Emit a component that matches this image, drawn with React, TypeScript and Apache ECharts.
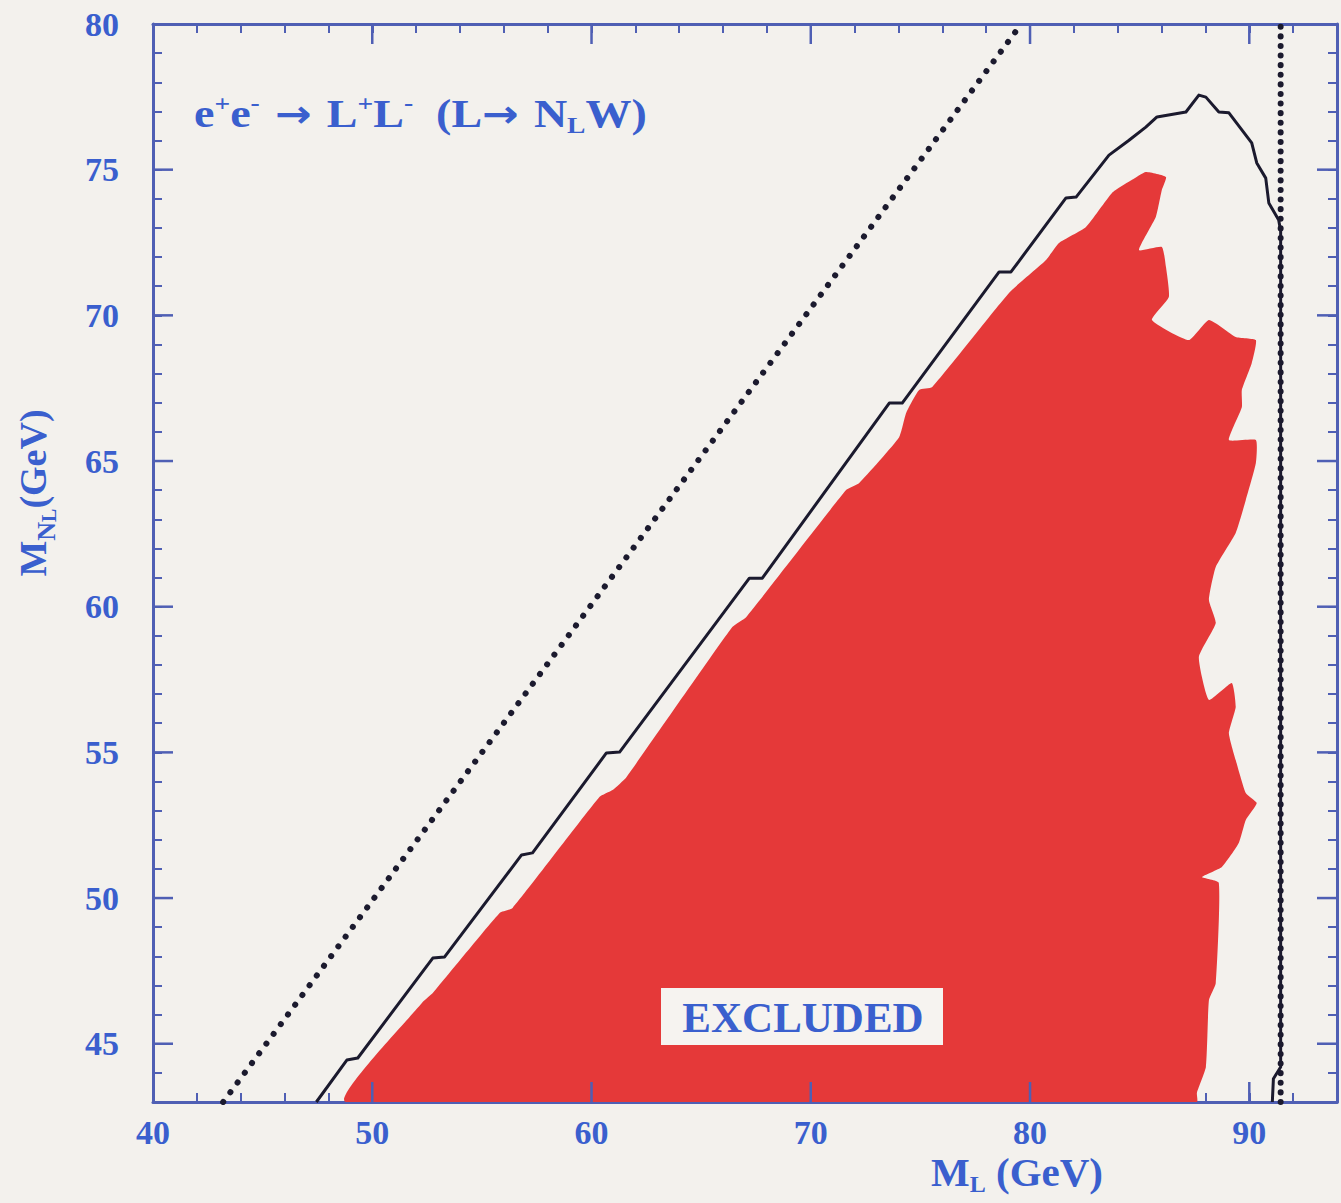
import React, { useEffect, useRef } from "react";
import * as echarts from "echarts";

// ---- data ----
const xRange = [40, 94];
const yRange = [43, 80];
const xLabelValues = [40, 50, 60, 70, 80, 90];
const yLabelValues = [45, 50, 55, 60, 65, 70, 75, 80];
const majorXTicks = [50, 60, 70, 80, 90];
const majorYTicks = [45, 50, 55, 60, 65, 70, 75];

// dotted kinematic limit M_N = M_L
const kinematicLimit: number[][] = [
  [43.2, 43],
  [79.6, 80],
];
// dotted vertical line
const zMassLimit: number[][] = [
  [91.43, 43],
  [91.43, 80],
];
// solid contour
const expectedLimit: number[][] = [
  [47.45, 43], [48.84, 44.44], [49.34, 44.51], [52.76, 47.94], [53.3, 47.98],
  [56.81, 51.48], [57.31, 51.55], [60.68, 54.98], [61.28, 55.01], [67.2, 60.98],
  [67.79, 60.98], [73.58, 66.99], [74.17, 66.99], [78.59, 71.49], [79.13, 71.49],
  [81.64, 74.03], [82.1, 74.06], [83.6, 75.5], [84.5, 76.0], [85.28, 76.46],
  [85.79, 76.81], [87.11, 76.98], [87.7, 77.56], [88.02, 77.49], [88.61, 76.98],
  [89.07, 76.95], [90.11, 75.92], [90.34, 75.23], [90.75, 74.71], [90.89, 73.86],
  [91.34, 73.27], [91.43, 72.9], [91.43, 44.2], [91.1, 43.8], [91.05, 43],
];
// red excluded region outline
const excludedRegion: number[][] = [
  [48.8, 43], [52.3, 46.43], [52.76, 46.74], [55.81, 49.49], [56.4, 49.66],
  [60.36, 53.47], [60.96, 53.71], [61.59, 54.15], [66.42, 59.3], [67.06, 59.65],
  [71.62, 64.01], [72.21, 64.25], [74.03, 65.82], [74.35, 66.65], [74.94, 67.44],
  [75.54, 67.54], [79.04, 70.77], [80.73, 71.9], [81.32, 72.48], [82.55, 73.03],
  [83.74, 74.2], [84.65, 74.65], [85.28, 74.92], [86.2, 74.75], [86.01, 74.3],
  [85.74, 73.38], [84.97, 72.24], [86.01, 72.35], [86.2, 71.66], [86.33, 70.63],
  [85.56, 69.84], [87.24, 69.15], [88.16, 69.84], [89.38, 69.26], [90.3, 69.15],
  [90.11, 68.36], [89.66, 67.44], [89.66, 66.85], [89.07, 65.72], [90.3, 65.72],
  [90.3, 64.93], [89.84, 63.66], [89.38, 62.53], [88.47, 61.36], [88.16, 60.23],
  [88.47, 59.44], [87.7, 58.27], [88.16, 56.8], [89.2, 57.38], [89.38, 56.56],
  [89.07, 55.66], [89.38, 54.74], [89.84, 53.61], [90.34, 53.26], [89.84, 52.68],
  [89.52, 51.89], [88.75, 51.07], [87.84, 50.72], [88.61, 50.52], [88.47, 47.08],
  [88.16, 46.5], [88.02, 44.2], [87.61, 43.31], [87.61, 43],
];

// ---- styles ----
const FONT = "'Liberation Serif', 'Times New Roman', serif";
const ARROW_FONT = "'DejaVu Sans', sans-serif";
const TEXT = "#3a5fce";
const FRAME = "#4f5fb4";
const RED = "#e53939";
const INK = "#1b1a2e";
const BG = "#f3f1ed";

export default function App() {
  const ref = useRef<HTMLDivElement>(null);

  useEffect(() => {
    document.body.style.margin = "0";
    document.body.style.overflow = "hidden";
    const chart = echarts.init(ref.current!, undefined, { renderer: "svg" });

    const axisLabelBase = {
      fontFamily: FONT,
      fontWeight: "bold" as const,
      fontSize: 34,
      color: TEXT,
    };
    const axisLineStyle = { lineStyle: { color: FRAME, width: 3 } };
    const tickStyle = { inside: true, length: 9, lineStyle: { color: FRAME, width: 2 } };
    const isLabel = (list: number[]) => (v: number) =>
      list.includes(Math.round(v)) && Math.abs(v - Math.round(v)) < 1e-6 ? String(Math.round(v)) : "";

    const tok = (size: number, lh: number, va: string, fam = FONT) => ({
      fontSize: size, fontWeight: "bold", fontFamily: fam, fill: TEXT, lineHeight: lh, verticalAlign: va,
    });

    const option: any = {
      animation: false,
      backgroundColor: BG,
      grid: { left: 153, top: 24, right: 4, bottom: 101, containLabel: false },
      xAxis: [
        {
          type: "value", position: "bottom", min: xRange[0], max: xRange[1], interval: 2,
          axisLine: axisLineStyle, axisTick: tickStyle, splitLine: { show: false },
          axisLabel: { ...axisLabelBase, margin: 13, formatter: isLabel(xLabelValues) },
        },
        {
          type: "value", position: "top", min: xRange[0], max: xRange[1], interval: 2,
          axisLine: axisLineStyle, axisTick: tickStyle, splitLine: { show: false },
          axisLabel: { show: false },
        },
      ],
      yAxis: [
        {
          type: "value", position: "left", min: yRange[0], max: yRange[1], interval: 1,
          axisLine: axisLineStyle, axisTick: tickStyle, splitLine: { show: false },
          axisLabel: { ...axisLabelBase, margin: 34, formatter: isLabel(yLabelValues) },
        },
        {
          type: "value", position: "right", min: yRange[0], max: yRange[1], interval: 1,
          axisLine: axisLineStyle, axisTick: tickStyle, splitLine: { show: false },
          axisLabel: { show: false },
        },
      ],
      series: [
        {
          type: "custom",
          name: "excluded",
          data: excludedRegion,
          z: 1,
          clip: true,
          silent: true,
          renderItem: (params: any, api: any) => {
            if (params.dataIndex !== 0) return null;
            const pts = excludedRegion.map((p) => api.coord(p));
            return { type: "polygon", shape: { points: pts, smooth: 0.15 }, style: { fill: RED } };
          },
        },
        {
          type: "line",
          name: "kinematic",
          data: kinematicLimit,
          showSymbol: false,
          silent: true,
          z: 3,
          lineStyle: { color: INK, width: 6, type: [0.1, 12], cap: "round" },
        },
        {
          type: "line",
          name: "zmass",
          data: zMassLimit,
          showSymbol: false,
          silent: true,
          z: 3,
          lineStyle: { color: INK, width: 6, type: [0.1, 9.5], cap: "round" },
        },
        {
          type: "line",
          name: "expected",
          data: expectedLimit,
          showSymbol: false,
          silent: true,
          z: 4,
          lineStyle: { color: INK, width: 3, join: "round" },
        },
        {
          type: "custom",
          name: "majorX",
          data: majorXTicks.map((v) => [v, yRange[0]]),
          z: 5,
          silent: true,
          renderItem: (params: any, api: any) => {
            const p = api.coord([api.value(0), yRange[0]]);
            const cs = params.coordSys;
            const st = { stroke: FRAME, lineWidth: 2.5 };
            return {
              type: "group",
              children: [
                { type: "line", shape: { x1: p[0], y1: cs.y + cs.height, x2: p[0], y2: cs.y + cs.height - 20 }, style: st },
                { type: "line", shape: { x1: p[0], y1: cs.y, x2: p[0], y2: cs.y + 20 }, style: st },
              ],
            };
          },
        },
        {
          type: "custom",
          name: "majorY",
          data: majorYTicks.map((v) => [xRange[0], v]),
          z: 5,
          silent: true,
          renderItem: (params: any, api: any) => {
            const p = api.coord([xRange[0], api.value(1)]);
            const cs = params.coordSys;
            const st = { stroke: FRAME, lineWidth: 2.5 };
            return {
              type: "group",
              children: [
                { type: "line", shape: { x1: cs.x, y1: p[1], x2: cs.x + 20, y2: p[1] }, style: st },
                { type: "line", shape: { x1: cs.x + cs.width, y1: p[1], x2: cs.x + cs.width - 20, y2: p[1] }, style: st },
              ],
            };
          },
        },
      ],
      graphic: [
        {
          type: "text",
          x: 194,
          y: 114,
          z: 100,
          scaleX: 1.15,
          style: {
            text: "{n|e}{sup|+}{n|e}{sup|-}{a| → }{n|L}{sup|+}{n|L}{sup|-}{n|  (L}{a|→ }{n|N}{sub|L}{n|W)}",
            align: "left",
            verticalAlign: "middle",
            rich: {
              n: tok(40, 46, "middle"),
              a: tok(38, 46, "middle", ARROW_FONT),
              sup: tok(24, 20, "top"),
              sub: tok(24, 20, "bottom"),
            },
          },
        },
        {
          type: "rect",
          z: 100,
          shape: { x: 661, y: 988, width: 282, height: 57 },
          style: { fill: "#f6f3f0" },
        },
        {
          type: "text",
          x: 803,
          y: 1017,
          z: 101,
          style: {
            text: "EXCLUDED",
            align: "center",
            verticalAlign: "middle",
            fontSize: 43,
            fontWeight: "bold",
            fontFamily: FONT,
            fill: TEXT,
          },
        },
        {
          type: "text",
          x: 1017,
          y: 1172,
          z: 100,
          style: {
            text: "{m|M}{s|L}{m| (GeV)}",
            align: "center",
            verticalAlign: "middle",
            rich: {
              m: tok(41, 48, "middle"),
              s: tok(24, 22, "bottom"),
            },
          },
        },
        {
          type: "text",
          x: 33,
          y: 493,
          z: 100,
          rotation: Math.PI / 2,
          style: {
            text: "{m|M}{s|N}{ss|L}{m|(GeV)}",
            align: "center",
            verticalAlign: "middle",
            rich: {
              m: tok(38, 52, "middle"),
              s: tok(26, 30, "bottom"),
              ss: tok(20, 18, "bottom"),
            },
          },
        },
      ],
    };

    chart.setOption(option);
    return () => chart.dispose();
  }, []);

  return <div ref={ref} style={{ width: 1341, height: 1203 }} />;
}
